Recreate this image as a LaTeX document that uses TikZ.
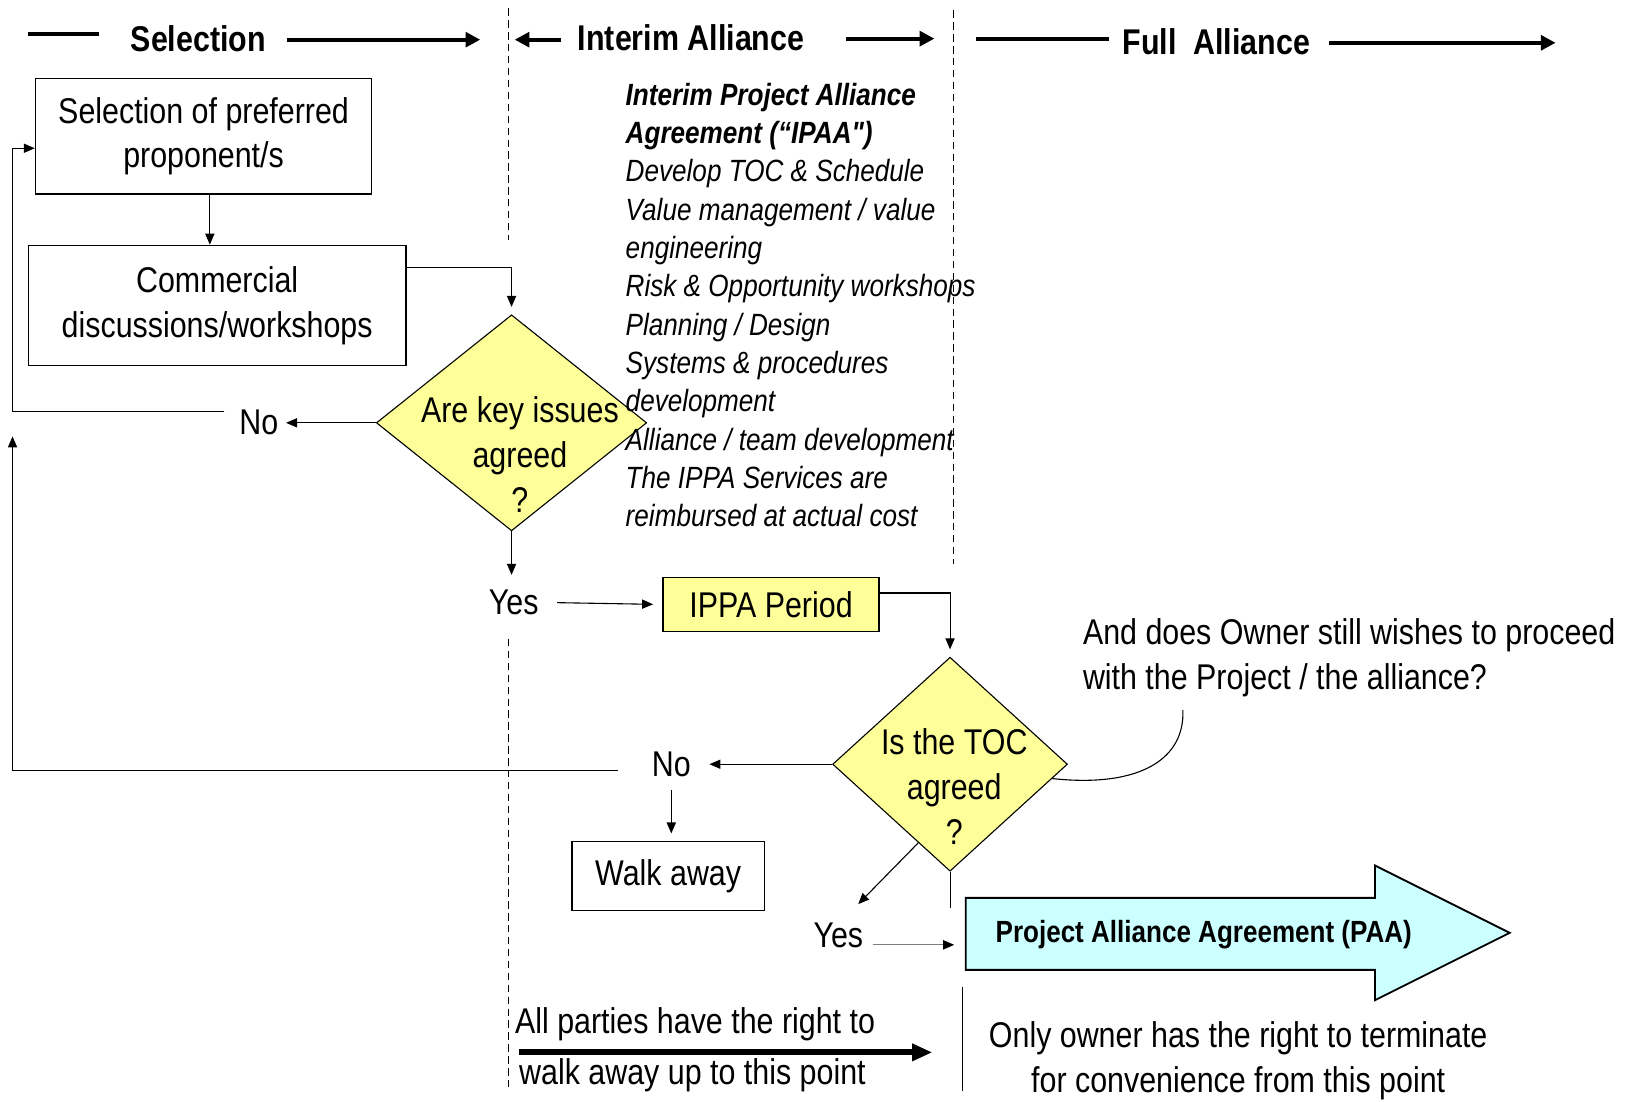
\documentclass[tikz,border=0pt]{standalone}
\usepackage{fontspec}
\setmainfont{Liberation Sans}[FakeStretch=0.85]
\newfontfamily\straightq{Liberation Sans}[FakeStretch=0.85,Ligatures=Common]
\usepackage{xcolor}
\usetikzlibrary{arrows.meta,shapes.geometric}
\definecolor{ippayellow}{HTML}{FFFF99}
\definecolor{paacyan}{HTML}{CCFFFF}

\begin{document}
\begin{tikzpicture}[x=0.02cm,y=-0.02cm,
  txt/.style={font=\fontsize{19.5}{24.5}\selectfont},
  lbl/.style={txt,inner sep=2pt},
  stagehead/.style={font=\fontsize{19.5}{24}\selectfont\bfseries,inner sep=0pt},
  stepbox/.style={draw,line width=0.75pt,inner sep=0pt,txt,align=center},
  decision/.style={draw,diamond,line width=0.6pt,fill=ippayellow,inner sep=0pt},
  flow/.style={-{Triangle[length=6pt,width=5pt]},line width=0.6pt},
  flowgray/.style={-{Triangle[length=6pt,width=5pt,color=black]},draw=gray,line width=0.6pt},
  headbar/.style={line width=2.2pt},
  headarrow/.style={line width=2.2pt,-{Triangle[length=8pt,width=8pt]}},
  divider/.style={dash pattern=on 4pt off 2.5pt,line width=0.6pt}]
  \useasboundingbox (0,0) rectangle (1568,1055);

  % stage headings
  \draw[headbar] (27,33) -- (95,33);
  \node[stagehead] (selhead) at (190,37) {Selection};
  \draw[headarrow] (275,38) -- (460,38);
  \draw[headarrow] (537,38) -- (493,38);
  \node[stagehead] (interimhead) at (662,36) {Interim Alliance};
  \draw[headarrow] (810,37) -- (895,37);
  \draw[headbar] (935,37) -- (1062,37);
  \node[stagehead] (fullhead) at (1165,40) {Full\ \ Alliance};
  \draw[headarrow] (1273,41) -- (1490,41);

  % stage dividers
  \draw[divider] (487,8) -- (487,230);
  \draw[divider] (487,612) -- (487,1045);
  \draw[divider] (913,10) -- (913,540);

  % selection stage
  \node[stepbox,minimum width=6.44cm,minimum height=2.22cm] (select) at (195,130.5) {Selection of preferred\\proponent/s};
  \node[stepbox,minimum width=7.24cm,minimum height=2.3cm] (commercial) at (208,292.5) {Commercial\\discussions/workshops};
  \node[decision,minimum width=5.18cm,minimum height=4.14cm] (keyq) at (490,405) {};
  \node[txt,align=center,inner sep=0pt] (keyqtxt) at (498,435) {Are key issues\\agreed\\?};
  \node[lbl] (no1) at (248,405) {No};
  \node[lbl] (yes1) at (492,577) {Yes};

  \draw[flow] ([xshift=0.12cm]select.south) -- ([xshift=0.12cm]select.south |- commercial.north);
  \draw[flow] ([yshift=0.73cm]commercial.east) -| ([yshift=4pt]keyq.north);
  \draw[flow,shorten >=2pt] (keyq.west) -- (no1.east);
  \draw[flow,shorten >=6pt] (keyq.south) -- (keyq.south |- yes1.north);
  \coordinate (loopstart) at (215,394);
  \coordinate (loopcorner) at (12,142);
  \draw[flow] (loopstart) -| (loopcorner) -- (loopcorner -| select.west);

  % interim stage
  \node[anchor=north west,inner sep=0pt,align=left,font=\fontsize{16.75}{20.9}\selectfont\itshape] (ipaa) at (599,79) {\textbf{Interim Project Alliance}\\\textbf{Agreement (``IPAA{\straightq"})}\\Develop TOC \& Schedule\\Value management / value\\engineering\\Risk \& Opportunity workshops\\Planning / Design\\Systems \& procedures\\development\\Alliance / team development\\The IPPA Services are\\reimbursed at actual cost};
  \node[stepbox,fill=ippayellow,minimum width=4.14cm,minimum height=1.04cm] (ippa) at (738.5,579) {IPPA Period};
  \node[decision,minimum width=4.5cm,minimum height=4.1cm] (toc) at (910,732) {};
  \node[txt,align=center,inner sep=0pt] (toctxt) at (914,753) {Is the TOC\\agreed\\?};
  \node[lbl] (no2) at (643,732) {No};
  \node[stepbox,minimum width=3.68cm,minimum height=1.32cm] (walk) at (640,839) {Walk away};
  \node[lbl] (yes2) at (803,896) {Yes};

  \draw[flow,shorten <=8pt,shorten >=5pt] (yes1.east) -- (ippa.west);
  \draw[flow,shorten >=4pt] ([yshift=0.22cm]ippa.east) -| (toc.north);
  \draw[flow,shorten >=8pt] (toc.west) -- (no2.east);
  \draw[flow,shorten <=5pt,shorten >=4pt] (no2.south) -- (no2.south |- walk.north);
  \coordinate (backstart) at (592,738);
  \coordinate (backend) at (12,418);
  \draw[flow] (backstart) -| (backend);
  \coordinate (yes2tip) at (822,866);
  \draw[flow] (toc.248) -- (yes2tip);
  \draw[line width=0.6pt] (toc.south) -- ++(0,35);

  % full alliance
  \draw[fill=paacyan,line width=1pt] (925,860) -- (1317,860) -- (1317,829) -- (1446,893.5) -- (1317,958) -- (1317,929) -- (925,929) -- cycle;
  \node[font=\fontsize{16.7}{20}\selectfont\bfseries] (paa) at (1153,895) {Project Alliance Agreement (PAA)};
  \coordinate (paain) at (914,905);
  \draw[flowgray,shorten <=3pt] (yes2.east |- paain) -- (paain);

  \node[txt,align=left,anchor=west,inner sep=0pt] (owner) at (1037,630) {And does Owner still wishes to proceed\\with the Project / the alliance?};
  \coordinate (callout) at (1133,680);
  \draw[line width=0.6pt] (callout) .. controls (1135,725) and (1095,755) .. (toc.-8);

  % rights to walk away
  \draw[line width=0.6pt] (922,945) -- (922,1045);
  \node[txt,anchor=west,inner sep=0pt] (allp1) at (493,981) {All parties have the right to};
  \node[txt,anchor=west,inner sep=0pt] (allp2) at (497,1030) {walk away up to this point};
  \draw[line width=3.2pt,-{Triangle[length=11pt,width=9pt]}] (497,1008) -- (893,1008);
  \node[txt,align=center] (ownerright) at (1186,1016) {Only owner has the right to terminate\\for convenience from this point};
\end{tikzpicture}
\end{document}
